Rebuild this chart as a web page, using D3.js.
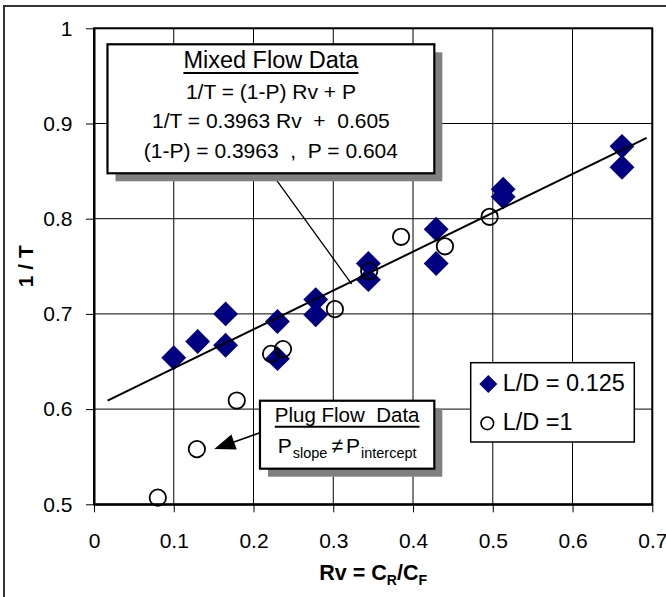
<!DOCTYPE html>
<html>
<head>
<meta charset="utf-8">
<script src="https://cdn.jsdelivr.net/npm/d3@7"></script>
<style>
  html, body { margin: 0; padding: 0; background: #fff; }
  svg { display: block; }
  text { font-family: "Liberation Sans", Arial, sans-serif; fill: #000; }
</style>
</head>
<body>
<svg id="chart" width="666" height="597"></svg>
<script>
// ---------- data ----------
const diamondRv   = [0.100, 0.130, 0.165, 0.165, 0.230, 0.230, 0.278, 0.278, 0.344, 0.344, 0.429, 0.429, 0.513, 0.513, 0.662, 0.662];
const diamondInvT = [0.654, 0.671, 0.700, 0.667, 0.692, 0.653, 0.715, 0.699, 0.753, 0.736, 0.789, 0.753, 0.831, 0.823, 0.876, 0.854];
const circleRv    = [0.080, 0.129, 0.179, 0.222, 0.237, 0.302, 0.345, 0.385, 0.440, 0.496];
const circleInvT  = [0.507, 0.558, 0.609, 0.658, 0.663, 0.705, 0.745, 0.781, 0.771, 0.802];
const trendRv     = [0.017, 0.693];
const trendInvT   = [0.609, 0.885];
const xTicks      = [0, 0.1, 0.2, 0.3, 0.4, 0.5, 0.6, 0.7];
const xTickLabels = ["0", "0.1", "0.2", "0.3", "0.4", "0.5", "0.6", "0.7"];
const yTicks      = [0.5, 0.6, 0.7, 0.8, 0.9, 1];
const yTickLabels = ["0.5", "0.6", "0.7", "0.8", "0.9", "1"];
const seriesNames = ["L/D = 0.125", "L/D =1"];
const mixedLines  = ["1/T = (1-P) Rv + P", "1/T = 0.3963 Rv  +  0.605", "(1-P) = 0.3963  ,  P = 0.604"];

// ---------- layout ----------
const svg = d3.select("#chart");
const x = d3.scaleLinear().domain([0, 0.7]).range([94, 652.3]);
const y = d3.scaleLinear().domain([0.5, 1]).range([504.3, 28.3]);
const navy = "#000080";

// outer chart border
svg.append("rect").attr("x", 4).attr("y", 6).attr("width", 720).attr("height", 720)
  .attr("fill", "#fff").attr("stroke", "#333").attr("stroke-width", 2);

// gridlines
const g = svg.append("g");
g.selectAll("line.vg").data(xTicks).join("line")
  .attr("x1", d => x(d)).attr("x2", d => x(d)).attr("y1", y(0.5)).attr("y2", y(1))
  .attr("stroke", "#000").attr("stroke-width", 1);
g.selectAll("line.hg").data(yTicks).join("line")
  .attr("y1", d => y(d)).attr("y2", d => y(d)).attr("x1", x(0)).attr("x2", x(0.7))
  .attr("stroke", "#000").attr("stroke-width", 1);

// plot frame
svg.append("rect").attr("x", x(0)).attr("y", y(1)).attr("width", x(0.7) - x(0)).attr("height", y(0.5) - y(1))
  .attr("fill", "none").attr("stroke", "#000").attr("stroke-width", 2);

// axes
const xAxis = d3.axisBottom(x).tickValues(xTicks).tickSize(8).tickSizeOuter(0).tickPadding(20.5)
  .tickFormat((d, i) => xTickLabels[i]);
const xa = svg.append("g").attr("transform", `translate(0,${y(0.5)})`).call(xAxis);
const yAxis = d3.axisLeft(y).tickValues(yTicks).tickSize(8).tickSizeOuter(0).tickPadding(13.5)
  .tickFormat((d, i) => yTickLabels[i]);
const ya = svg.append("g").attr("transform", `translate(${x(0)},0)`).call(yAxis);
[xa, ya].forEach(a => {
  a.select(".domain").attr("stroke", "#000").attr("stroke-width", 2);
  a.selectAll(".tick line").attr("stroke", "#000").attr("stroke-width", 1);
  a.selectAll(".tick text").attr("font-size", 21).attr("font-family", "Liberation Sans, Arial, sans-serif").attr("fill", "#000");
});

// axis titles
svg.append("text").attr("transform", `translate(25,${(y(0.5) + y(1)) / 2}) rotate(-90)`)
  .attr("text-anchor", "middle").attr("dominant-baseline", "central")
  .attr("font-size", 21).attr("font-weight", "bold").text("1 / T");
const xt = svg.append("text").attr("x", (x(0) + x(0.7)) / 2).attr("y", 580)
  .attr("text-anchor", "middle").attr("font-size", 21.5).attr("font-weight", "bold");
xt.append("tspan").text("Rv = C");
xt.append("tspan").attr("font-size", 14).attr("dy", 5).text("R");
xt.append("tspan").attr("dy", -5).text("/C");
xt.append("tspan").attr("font-size", 14).attr("dy", 5).text("F");

// diamonds
const diamonds = diamondRv.map((v, i) => ({ rv: v, t: diamondInvT[i] }));
svg.append("g").selectAll("path").data(diamonds).join("path")
  .attr("d", d3.symbol(d3.symbolSquare, 310)())
  .attr("transform", d => `translate(${x(d.rv)},${y(d.t)}) rotate(45)`)
  .attr("fill", navy);

// circles
const circles = circleRv.map((v, i) => ({ rv: v, t: circleInvT[i] }));
svg.append("g").selectAll("circle").data(circles).join("circle")
  .attr("cx", d => x(d.rv)).attr("cy", d => y(d.t)).attr("r", 8.2)
  .attr("fill", "none").attr("stroke", "#000").attr("stroke-width", 1.8);

// trend line
const trend = trendRv.map((v, i) => ({ rv: v, t: trendInvT[i] }));
svg.append("path").datum(trend)
  .attr("d", d3.line().x(d => x(d.rv)).y(d => y(d.t)))
  .attr("fill", "none").attr("stroke", "#000").attr("stroke-width", 2);

// ---------- Mixed flow annotation ----------
const mixBox = { x0: 0.0169, x1: 0.4267, y0: 0.9832, y1: 0.8477 };
const mixLineFrom = { rv: 0.2232, t: 0.8470 }, mixLineTo = { rv: 0.3231, t: 0.7314 };
svg.append("line").attr("x1", x(mixLineFrom.rv)).attr("y1", y(mixLineFrom.t))
  .attr("x2", x(mixLineTo.rv)).attr("y2", y(mixLineTo.t))
  .attr("stroke", "#000").attr("stroke-width", 1.3);
const mbx = x(mixBox.x0), mby = y(mixBox.y0), mbw = x(mixBox.x1) - x(mixBox.x0), mbh = y(mixBox.y1) - y(mixBox.y0);
svg.append("rect").attr("x", mbx + 8).attr("y", mby + 8).attr("width", mbw).attr("height", mbh).attr("fill", "#808080");
svg.append("rect").attr("x", mbx).attr("y", mby).attr("width", mbw).attr("height", mbh)
  .attr("fill", "#fff").attr("stroke", "#000").attr("stroke-width", 2.2);
const mcx = mbx + mbw / 2;
const mt = svg.append("text").attr("x", mcx).attr("y", mby + 23.4).attr("text-anchor", "middle")
  .attr("font-size", 23.5).text("Mixed Flow Data");
const mtw = mt.node().getComputedTextLength();
svg.append("line").attr("x1", mcx - mtw / 2).attr("x2", mcx + mtw / 2).attr("y1", mby + 28.6).attr("y2", mby + 28.6)
  .attr("stroke", "#000").attr("stroke-width", 2);
svg.append("g").selectAll("text").data(mixedLines).join("text")
  .attr("x", mcx).attr("y", (d, i) => mby + 55 + i * 29.2)
  .attr("text-anchor", "middle").attr("font-size", 21).attr("xml:space", "preserve")
  .style("white-space", "pre").text(d => d);

// ---------- Plug flow annotation ----------
const plugBox = { x0: 0.2081, x1: 0.4267, y0: 0.6088, y1: 0.5374 };
const arrowFrom = { rv: 0.2081, t: 0.5752 }, arrowTip = { rv: 0.1508, t: 0.5581 };
const pbx = x(plugBox.x0), pby = y(plugBox.y0), pbw = x(plugBox.x1) - x(plugBox.x0), pbh = y(plugBox.y1) - y(plugBox.y0);
svg.append("rect").attr("x", pbx + 8).attr("y", pby + 8).attr("width", pbw).attr("height", pbh).attr("fill", "#808080");
svg.append("rect").attr("x", pbx).attr("y", pby).attr("width", pbw).attr("height", pbh)
  .attr("fill", "#fff").attr("stroke", "#000").attr("stroke-width", 2.2);
const pcx = pbx + pbw / 2;
const pt = svg.append("text").attr("x", pcx).attr("y", pby + 21).attr("text-anchor", "middle")
  .attr("font-size", 20.5).attr("xml:space", "preserve").style("white-space", "pre").text("Plug Flow  Data");
const ptw = pt.node().getComputedTextLength();
svg.append("line").attr("x1", pcx - ptw / 2).attr("x2", pcx + ptw / 2).attr("y1", pby + 26).attr("y2", pby + 26)
  .attr("stroke", "#000").attr("stroke-width", 2);
const pl = svg.append("text").attr("x", pcx).attr("y", pby + 52).attr("text-anchor", "middle").attr("font-size", 21);
pl.append("tspan").text("P");
pl.append("tspan").attr("font-size", 14.5).attr("dy", 5.5).attr("dx", 1).text("slope");
pl.append("tspan").attr("dy", -5.5).attr("dx", 4).text("\u2260");
pl.append("tspan").attr("dx", 3).text("P");
pl.append("tspan").attr("font-size", 14.5).attr("dy", 5.5).attr("dx", 1).text("intercept");

// arrow
const ax1 = x(arrowFrom.rv), ay1 = y(arrowFrom.t), ax2 = x(arrowTip.rv), ay2 = y(arrowTip.t);
const ang = Math.atan2(ay2 - ay1, ax2 - ax1);
const hl = 21, hw = 8;
const bx = ax2 - hl * Math.cos(ang), by = ay2 - hl * Math.sin(ang);
svg.append("line").attr("x1", ax1).attr("y1", ay1).attr("x2", bx).attr("y2", by)
  .attr("stroke", "#000").attr("stroke-width", 1.5);
svg.append("path")
  .attr("d", d3.line()([[ax2, ay2],
    [bx + hw * Math.sin(ang), by - hw * Math.cos(ang)],
    [bx - hw * Math.sin(ang), by + hw * Math.cos(ang)]]) + "Z")
  .attr("fill", "#000");

// ---------- legend ----------
const lg = svg.append("g").attr("transform", "translate(470.7,362.7)");
lg.append("rect").attr("width", 163.6).attr("height", 79.3).attr("fill", "#fff")
  .attr("stroke", "#000").attr("stroke-width", 1.5);
lg.append("path").attr("d", d3.symbol(d3.symbolSquare, 162)())
  .attr("transform", "translate(17.6,21.3) rotate(45)").attr("fill", navy);
lg.append("circle").attr("cx", 16.6).attr("cy", 60.6).attr("r", 6.3)
  .attr("fill", "none").attr("stroke", "#000").attr("stroke-width", 1.6);
lg.selectAll("text").data(seriesNames).join("text")
  .attr("x", 32).attr("y", (d, i) => 28 + i * 39.3)
  .attr("font-size", 23.5).text(d => d);
</script>
</body>
</html>
